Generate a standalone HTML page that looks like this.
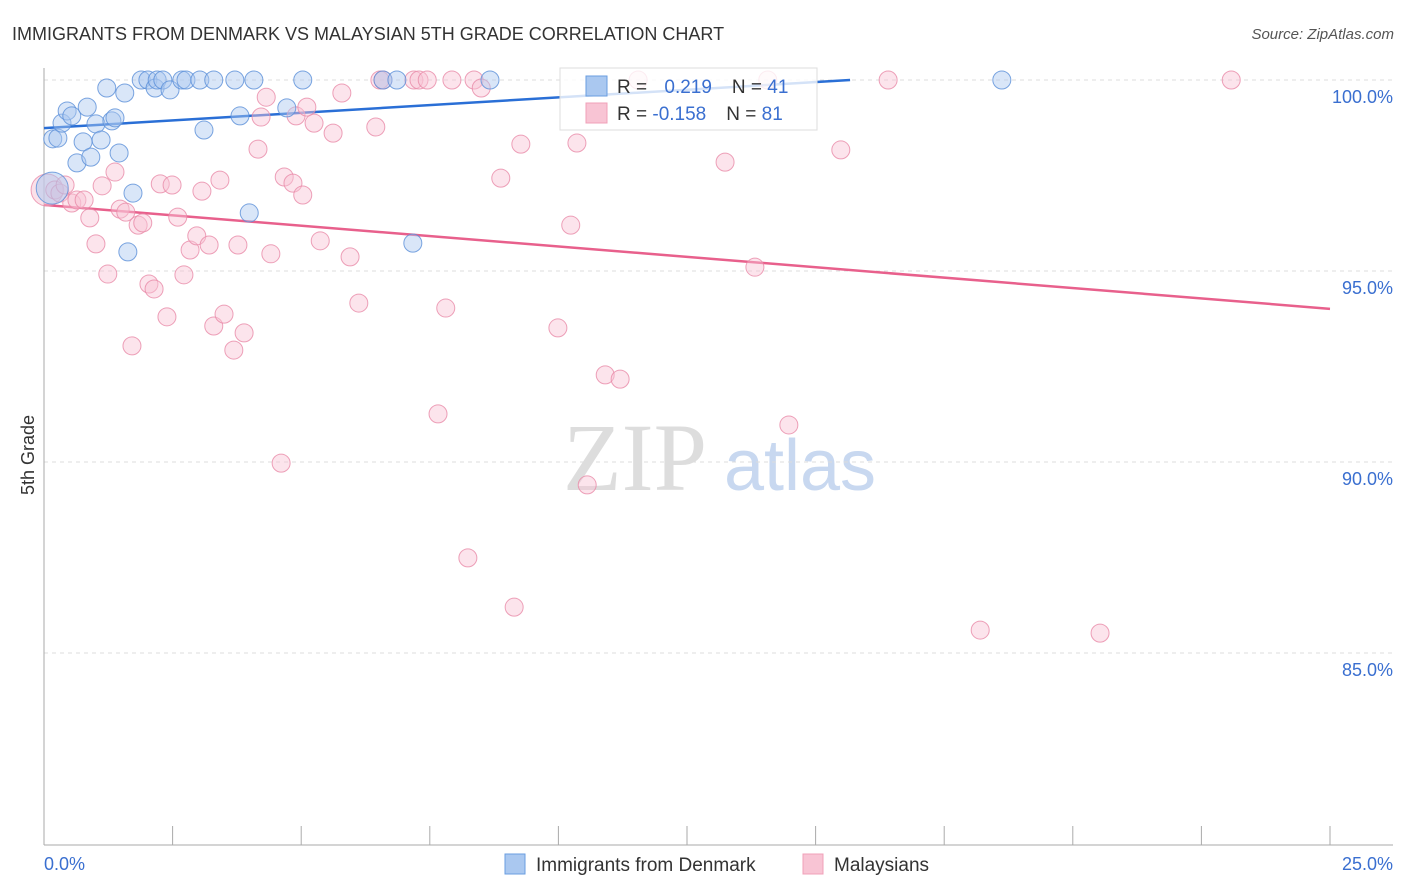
<!DOCTYPE html>
<html><head><meta charset="utf-8"><style>
body{margin:0;background:#fff;font-family:"Liberation Sans",sans-serif;}
svg{display:block}
</style></head><body>
<svg id="chart" width="1406" height="892" xmlns="http://www.w3.org/2000/svg">
<text x="12" y="40" font-size="18" fill="#333">IMMIGRANTS FROM DENMARK VS MALAYSIAN 5TH GRADE CORRELATION CHART</text>
<text x="1394" y="39" font-size="15" fill="#555" font-style="italic" text-anchor="end">Source: ZipAtlas.com</text>
<g>
<text x="635" y="490" font-size="96" fill="#ddd" font-family="Liberation Serif,serif" text-anchor="middle">ZIP</text>
<text x="800" y="490" font-size="72" fill="#c8d8f0" text-anchor="middle">atlas</text>
</g>
<g id="grid"></g>
<g id="axes"></g>
<g id="lines"></g>
<g id="pts"></g>
<text transform="translate(34,455) rotate(-90)" font-size="18" fill="#333" text-anchor="middle">5th Grade</text>
<g>
<rect x="560" y="68" width="257" height="62" fill="#fff" fill-opacity="0.8" stroke="#ddd"/>
<rect x="586" y="76" width="21" height="20" fill="#aac8f0" stroke="#6a9ee0"/>
<rect x="586" y="103" width="21" height="20" fill="#f8c4d4" stroke="#f0a0b8"/>
<text x="617" y="93" font-size="19" fill="#333">R = <tspan fill="#3a6fd0" dx="12">0.219</tspan><tspan dx="20" fill="#333">N = </tspan><tspan fill="#3a6fd0">41</tspan></text>
<text x="617" y="120" font-size="19" fill="#333">R = <tspan fill="#3a6fd0">-0.158</tspan><tspan dx="20" fill="#333">N = </tspan><tspan fill="#3a6fd0">81</tspan></text>
</g>
<g>
<rect x="505" y="854" width="20" height="20" fill="#aac8f0" stroke="#6a9ee0"/>
<text x="536" y="871" font-size="19" fill="#333">Immigrants from Denmark</text>
<rect x="803" y="854" width="20" height="20" fill="#f8c4d4" stroke="#f0a0b8"/>
<text x="834" y="871" font-size="19" fill="#333">Malaysians</text>
</g>
</svg>
<script>
const yTicks=[100,95,90,85];
const xTickLabels=["0.0%","25.0%"];
const blueX=[0.17,0.27,0.35,0.45,0.54,0.64,0.76,0.84,0.91,1.01,1.11,1.22,1.32,1.38,1.46,1.57,1.63,1.73,1.89,2.02,2.16,2.20,2.31,2.45,2.68,2.76,3.03,3.11,3.30,3.71,3.81,3.99,4.08,4.72,5.03,6.59,6.86,7.17,8.67,18.62,0.16];
const blueY=[98.46,98.48,98.87,99.19,99.06,97.83,98.38,99.29,97.98,98.85,98.43,99.79,98.93,99.01,98.09,99.66,95.50,97.04,100,100,99.79,100,100,99.74,100,100,100,98.69,100,100,99.06,96.52,100,99.27,100,100,100,95.73,100,100,97.17];
const pinkX=[0.06,0.21,0.31,0.41,0.54,0.64,0.78,0.89,1.01,1.13,1.24,1.38,1.48,1.59,1.71,1.83,1.92,2.04,2.14,2.26,2.39,2.49,2.60,2.72,2.84,2.97,3.07,3.21,3.30,3.42,3.50,3.69,3.77,3.89,4.16,4.22,4.32,4.41,4.61,4.67,4.84,4.90,5.03,5.11,5.25,5.37,5.62,5.79,5.95,6.12,6.45,6.53,6.59,7.19,7.29,7.45,7.66,7.81,7.93,8.24,8.36,8.50,8.88,9.14,9.27,9.99,10.24,10.36,10.56,10.91,11.20,11.55,13.24,13.82,14.07,14.48,15.49,16.41,18.20,20.53,23.08];
const pinkY=[97.12,97.12,97.04,97.25,96.78,96.86,96.86,96.39,95.71,97.23,94.92,97.59,96.62,96.54,93.04,96.20,96.26,94.66,94.53,97.28,93.80,97.25,96.41,94.90,95.55,95.92,97.09,95.68,93.56,97.38,93.87,92.93,95.68,93.38,98.19,99.03,99.55,95.45,89.97,97.46,97.30,99.06,96.99,99.29,98.87,95.79,98.61,99.66,95.37,94.16,98.77,100,100,100,100,100,91.26,94.03,100,87.49,100,99.79,97.43,86.20,98.32,93.51,96.20,98.35,89.40,92.28,92.17,100,97.85,95.10,100,90.97,98.17,100,85.60,85.52,100];
const blueTrend=[98.74,100.0],blueTrendX=[0,15.67];
const pinkTrend=[96.73,94.01],pinkTrendX=[0,25];
const NS="http://www.w3.org/2000/svg";
const X=v=>44+v*51.44, Y=v=>80+(100-v)*38.2;
function mk(tag,attrs,parent){const e=document.createElementNS(NS,tag);for(const k in attrs)e.setAttribute(k,attrs[k]);parent.appendChild(e);return e;}
const grid=document.getElementById('grid'),axes=document.getElementById('axes'),lines=document.getElementById('lines'),pts=document.getElementById('pts');
yTicks.forEach(t=>{
 const l=mk('line',{x1:44,x2:1393,y1:Y(t),y2:Y(t),stroke:'#ddd','stroke-dasharray':'4,4'},grid);
 
 
 const tx=mk('text',{x:1393,y:Y(t)+23,'font-size':18,fill:'#3a6fd0','text-anchor':'end'},grid);
 tx.textContent=t.toFixed(1)+'%';
 
 
});
const ya=mk('line',{x1:44,x2:44,y1:68,y2:845,stroke:'#aaa'},axes);


const xa=mk('line',{x1:44,x2:1393,y1:845,y2:845,stroke:'#aaa'},axes);


for(let i=1;i<=10;i++){
 const t=mk('line',{x1:X(i*2.5),x2:X(i*2.5),y1:826,y2:845,stroke:'#aaa'},axes);
 
 
}
[[0,'start',44],[25,'end',1393]].forEach((d,i)=>{
 const tx=mk('text',{x:d[2],y:870,'font-size':18,fill:'#3a6fd0','text-anchor':d[1]},axes);
 tx.textContent=xTickLabels[i];
 
 
});
function drawPts(xs,ys,fill,stroke,name){
 xs.forEach((x,i)=>{
  const big=(i===xs.length-1&&name==='blue')||(i===0&&name==='pink');
  const c=mk('circle',{cx:X(x),cy:Y(ys[i]),r:big?16:9,fill:fill,'fill-opacity':big?0.5:0.45,stroke:stroke,'stroke-opacity':0.8,'stroke-width':1},pts);
  
  
 });
}
drawPts(pinkX,pinkY,'#f8c4d4','#e88aa8','pink');
drawPts(blueX,blueY,'#aac8f0','#5a8ed8','blue');
const bl=mk('line',{x1:X(blueTrendX[0]),y1:Y(blueTrend[0]),x2:X(blueTrendX[1]),y2:Y(blueTrend[1]),stroke:'#2a6fd6','stroke-width':2.5},lines);


const pl=mk('line',{x1:X(pinkTrendX[0]),y1:Y(pinkTrend[0]),x2:X(pinkTrendX[1]),y2:Y(pinkTrend[1]),stroke:'#e8608c','stroke-width':2.5},lines);


</script>
</body></html>
